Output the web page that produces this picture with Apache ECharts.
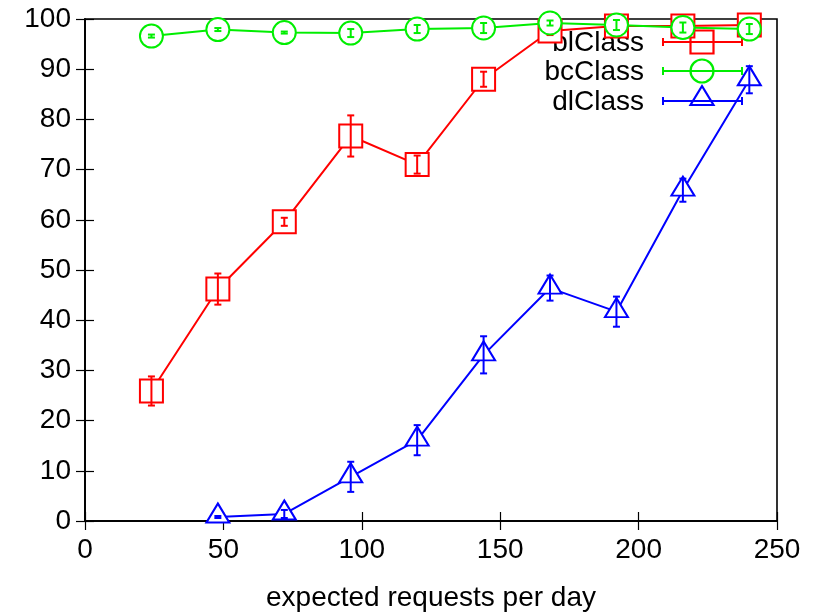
<!DOCTYPE html>
<html>
<head>
<meta charset="utf-8">
<script src="https://cdn.jsdelivr.net/npm/echarts@6/dist/echarts.min.js"></script>
<style>
  html, body { margin: 0; padding: 0; background: #fff; }
  #main { width: 821px; height: 612px; }
</style>
</head>
<body>
<div id="main"></div>
<script>
// x positions (expected requests per day)
var xs = [24, 48, 72, 96, 120, 144, 168, 192, 216, 240];

// blClass
var blMean = [25.9, 46.2, 59.6, 76.7, 71.0, 88.0, 97.6, 98.6, 98.6, 98.8];
var blErr  = [2.9, 3.1, 0.8, 4.1, 1.8, 1.5, 0.8, 0.8, 0.8, 0.6];
// bcClass
var bcMean = [96.6, 97.9, 97.3, 97.2, 98.0, 98.2, 99.2, 98.8, 98.3, 98.0];
var bcErr  = [0.3, 0.3, 0.2, 0.8, 0.8, 1.0, 0.5, 1.0, 1.0, 1.0];
// dlClass (starts at 48)
var dlX    = [48, 72, 96, 120, 144, 168, 192, 216, 240];
var dlMean = [0.8, 1.4, 8.8, 16.1, 33.1, 46.4, 41.7, 65.9, 87.9];
var dlErr  = [0.2, 0.8, 3.0, 3.0, 3.7, 2.5, 3.0, 2.3, 2.7];

var names = ['blClass', 'bcClass', 'dlClass'];
var colors = ['#ff0000', '#00ee00', '#0000ff'];
var fontFam = '"Liberation Sans", Arial, sans-serif';
var fs = 28;

function pairs(x, y) {
    return x.map(function (v, i) { return [v, y[i]]; });
}
function triples(x, y, e) {
    return x.map(function (v, i) { return [v, y[i], e[i]]; });
}

function errBars(color) {
    return function (params, api) {
        var x = api.value(0), y = api.value(1), e = api.value(2);
        var hi = api.coord([x, y + e]);
        var lo = api.coord([x, y - e]);
        var w = 3.5;
        var st = { stroke: color, lineWidth: 2 };
        return {
            type: 'group',
            children: [
                { type: 'line', shape: { x1: hi[0], y1: hi[1], x2: lo[0], y2: lo[1] }, style: st },
                { type: 'line', shape: { x1: hi[0] - w, y1: hi[1], x2: hi[0] + w, y2: hi[1] }, style: st },
                { type: 'line', shape: { x1: lo[0] - w, y1: lo[1], x2: lo[0] + w, y2: lo[1] }, style: st }
            ]
        };
    };
}

var symbols = ['emptyRect', 'emptyCircle', 'emptyTriangle'];
var symSizes = [23, 23, [23, 19]];
var symOffsets = [[0, 0], [0, 0], [0, -4]];
var lineData = [pairs(xs, blMean), pairs(xs, bcMean), pairs(dlX, dlMean)];
var errData = [triples(xs, blMean, blErr), triples(xs, bcMean, bcErr), triples(dlX, dlMean, dlErr)];

var series = [];
for (var i = 0; i < 3; i++) {
    series.push({
        name: names[i],
        type: 'line',
        data: lineData[i],
        symbol: symbols[i],
        symbolSize: symSizes[i],
        symbolOffset: symOffsets[i],
        showAllSymbol: true,
        lineStyle: { color: colors[i], width: 2 },
        itemStyle: { color: colors[i], borderColor: colors[i], borderWidth: 2.2 },
        z: 3 + i * 2,
        animation: false
    });
    series.push({
        name: names[i] + ' err',
        type: 'custom',
        data: errData[i],
        renderItem: errBars(colors[i]),
        z: 4 + i * 2,
        animation: false
    });
}

// legend drawn gnuplot-style: right aligned text, sample line with error caps and symbol
var legendRows = [42, 71, 101];
var graphics = [];
for (var k = 0; k < 3; k++) {
    var cy = legendRows[k];
    var c = colors[k];
    var st = { stroke: c, lineWidth: 2, fill: null };
    graphics.push({ type: 'text', x: 644, y: cy + 1, style: { text: names[k], font: fs + 'px ' + fontFam, fill: '#000', align: 'right', verticalAlign: 'middle' } });
    graphics.push({ type: 'line', shape: { x1: 663, y1: cy, x2: 742, y2: cy }, style: st });
    graphics.push({ type: 'line', shape: { x1: 663, y1: cy - 4, x2: 663, y2: cy + 4 }, style: st });
    graphics.push({ type: 'line', shape: { x1: 742, y1: cy - 4, x2: 742, y2: cy + 4 }, style: st });
    var sst = { stroke: c, lineWidth: 2.2, fill: null };
    if (k === 0) {
        graphics.push({ type: 'rect', shape: { x: 702 - 11.5, y: cy - 11.5, width: 23, height: 23 }, style: sst });
    } else if (k === 1) {
        graphics.push({ type: 'circle', shape: { cx: 702, cy: cy, r: 11.5 }, style: sst });
    } else {
        graphics.push({ type: 'polygon', shape: { points: [[702, cy - 15], [713.5, cy + 4], [690.5, cy + 4]] }, style: sst });
    }
}

var axisLine = { show: true, lineStyle: { color: '#000', width: 1.6 } };
var tick = { show: true, inside: true, length: 9, lineStyle: { color: '#000', width: 1.2 } };
var lbl = { color: '#000', fontSize: fs, fontFamily: fontFam };

var option = {
    backgroundColor: '#fff',
    animation: false,
    grid: {
        left: 85, right: 44, top: 19, bottom: 91,
        outerBoundsMode: 'none', containLabel: false,
        show: true, borderColor: '#000', borderWidth: 1.6, backgroundColor: 'transparent'
    },
    xAxis: [{
        type: 'value', min: 0, max: 250, interval: 50, position: 'bottom',
        name: 'expected requests per day', nameLocation: 'middle', nameGap: 63,
        nameTextStyle: { color: '#000', fontSize: fs, fontFamily: fontFam },
        axisLine: axisLine, axisTick: tick, splitLine: { show: false },
        axisLabel: Object.assign({ margin: 15 }, lbl)
    }, {
        type: 'value', min: 0, max: 250, interval: 50, position: 'top',
        axisLine: axisLine, axisTick: tick, splitLine: { show: false }, axisLabel: { show: false }
    }],
    yAxis: [{
        type: 'value', min: 0, max: 100, interval: 10, position: 'left',
        axisLine: axisLine, axisTick: tick, splitLine: { show: false },
        axisLabel: Object.assign({ margin: 14 }, lbl)
    }, {
        type: 'value', min: 0, max: 100, interval: 10, position: 'right',
        axisLine: axisLine, axisTick: tick, splitLine: { show: false }, axisLabel: { show: false }
    }],
    graphic: graphics,
    series: series
};

var chart = echarts.init(document.getElementById('main'));
chart.setOption(option);
</script>
</body>
</html>
